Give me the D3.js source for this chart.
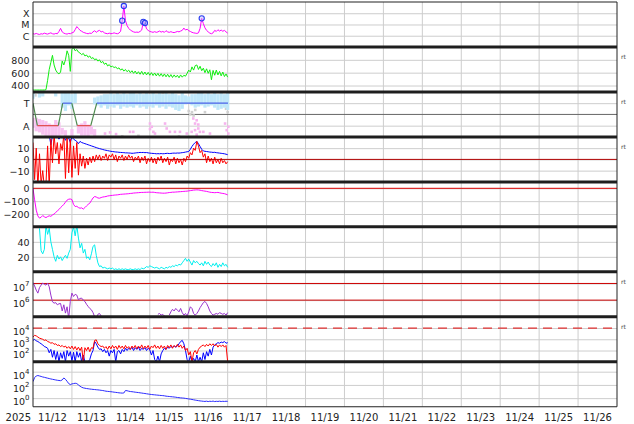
<!DOCTYPE html>
<html><head><meta charset="utf-8">
<script src="https://cdn.jsdelivr.net/npm/d3@7"></script>
<style>body{margin:0;background:#fff}svg{display:block}</style>
</head><body><svg id="chart" width="634" height="424"></svg>
<script>
// ---------------- DATA (hourly series start 2025-11-12 00:00 UT, 1 h step) ----------------
const startDate = "2025-11-12T00:00:00Z";
const endDate = "2025-11-27T00:00:00Z";
const yearLabel = "2025";
const dayLabels = ["11/12","11/13","11/14","11/15","11/16","11/17","11/18","11/19","11/20","11/21","11/22","11/23","11/24","11/25","11/26"];

// Panel 1: GOES X-ray flux (W/m2)
const xrayFlux = [
1.5e-6,1.4e-6,1.6e-6,1.4e-6,1.3e-6,1.5e-6,1.4e-6,1.7e-6,1.5e-6,1.4e-6,
1.6e-6,1.8e-6,1.5e-6,1.4e-6,1.6e-6,1.5e-6,2.4e-6,4.5e-6,2.2e-6,1.7e-6,
1.5e-6,1.4e-6,1.6e-6,1.5e-6,1.8e-6,2.0e-6,3.5e-6,6.5e-6,4.5e-6,3.0e-6,
2.5e-6,2.0e-6,1.8e-6,1.6e-6,1.5e-6,1.7e-6,1.6e-6,2.2e-6,2.8e-6,2.0e-6,
2.6e-6,3.0e-6,2.2e-6,2.4e-6,1.8e-6,1.6e-6,1.5e-6,1.7e-6,1.5e-6,1.6e-6,
1.8e-6,1.6e-6,1.5e-6,1.7e-6,2.5e-6,2.2e-5,4.4e-4,2.2e-5,8e-6,4.5e-6,
3.2e-6,2.6e-6,2.2e-6,2.0e-6,2.1e-6,2.0e-6,2.4e-6,3.2e-6,1.7e-5,1.35e-5,
4e-6,3e-6,2.4e-6,2.2e-6,2.0e-6,2.3e-6,2.0e-6,2.2e-6,2.6e-6,2.1e-6,
2.4e-6,2.0e-6,2.8e-6,2.2e-6,2.0e-6,2.3e-6,2.0e-6,1.9e-6,2.1e-6,2.4e-6,
2.2e-6,2.6e-6,3.0e-6,4.8e-6,3.2e-6,3.8e-6,2.8e-6,2.4e-6,2.0e-6,1.8e-6,
1.7e-6,1.6e-6,1.8e-6,4.5e-6,3.5e-5,1.2e-5,5e-6,3e-6,2.2e-6,1.7e-6,
1.5e-6,1.8e-6,3.0e-6,2.4e-6,3.4e-6,2.6e-6,3.2e-6,2.5e-6,3.0e-6,2.2e-6,1.7e-6];
const flareHours = [55, 56, 68, 69, 104];
const flareFlux = [2.2e-5, 4.4e-4, 1.7e-5, 1.35e-5, 3.5e-5];
const xrayTicks = [1e-4, 1e-5, 1e-6];
const xrayTickLabels = ["X", "M", "C"];

// Panel 2: solar wind speed (km/s)
const windSpeed = [
330,330,330,330,330,330,330,330,335,480,
650,760,870,720,640,600,580,610,780,720,
800,940,870,620,960,990,940,960,920,905,
880,900,860,875,840,860,820,835,800,815,
780,800,755,775,730,750,705,725,690,700,
680,690,660,675,640,660,625,650,615,640,
600,630,590,625,580,615,575,620,570,610,
565,605,560,600,555,595,550,590,545,585,
540,580,535,575,530,570,525,565,530,560,
520,565,530,560,545,590,640,610,690,640,
710,720,650,700,630,670,600,660,590,645,
490,635,560,640,565,620,550,610,540,580,530];
const speedTicks = [800, 600, 400];

// Panel 3: IMF sector (T = +1, A = -1)
const sectorHours = [0, 2.7, 15.6, 18.3, 23.9, 27.3, 35.6, 39.3, 120.2];
const sectorPolarity = [1, -1, -1, 1, 1, -1, -1, 1, 1];
const sectorTicks = [1, -1];
const sectorTickLabels = ["T", "A"];
// 2-hour bins of the away (light blue) scatter extent
const awayBandLo = [1.4,null,1.5,1.6,null,null,null,1.6,null,0.6,
0.3,0.8,0.5,1.0,null,null,null,null,null,0.9,
0.8,0.6,0.8,0.5,0.7,0.6,0.8,0.5,0.7,0.6,
0.7,0.6,0.8,0.6,0.7,0.5,0.7,0.6,0.8,0.6,
0.7,0.5,0.7,0.6,0.4,0.3,0.5,0.9,1.0,0.8,
0.6,0.7,0.8,0.6,0.7,0.8,0.6,0.4,0.5,0.6,0.4];
const awayBandHi = [1.9,null,2.0,2.0,null,null,null,1.9,null,1.9,
2.0,1.9,1.8,1.9,null,null,null,null,null,1.5,
1.6,1.7,1.8,1.8,1.9,1.8,1.9,1.8,1.9,1.8,
1.9,1.9,1.8,1.9,1.8,1.9,1.8,1.9,1.8,1.9,
1.8,1.9,1.8,1.9,1.8,1.7,1.9,1.7,1.6,1.8,
1.8,1.9,1.9,1.8,1.9,1.8,1.9,1.8,1.9,1.8,1.9];
// 2-hour bins of the toward (pink) scatter extent, first 40 h
const towardBandTop = [-0.3,-0.3,-0.4,-0.5,-0.6,-0.8,-0.9,-0.5,-0.7,-1.2,-1.4,null,-1.3,null,-0.9,-0.8,-0.6,-0.9,-1.0,-1.3];
const towardBandBottom = [-1.2,-1.5,-1.6,-1.8,-1.9,-1.9,-2.0,-2.0,-1.9,-1.8,-2.0,null,-1.9,null,-1.7,-1.9,-1.9,-2.0,-1.8,-1.9];
const towardDotHours = [44.4,47.5,51.2,59.8,61.8,72.1,73.2,74.2,75.2,81.4,82.4,84.4,87.5,90.6,94.8,97.8,98.8,99.9,100.9,101.9,102.9,105.0,109.1,118.4,119.4,120.4,120.4,72.1,99.9,101.9,100.9];
const towardDotValues = [-1.7,-1.6,-1.75,-1.55,-1.55,-0.81,-1.1,-1.55,-1.7,-0.81,-1.25,-1.55,-1.55,-1.55,-1.7,-1.55,-0.36,-0.81,-0.52,-1.25,-1.55,-1.55,-1.7,-0.81,-1.4,-1.1,-1.7,-1.3,-1.4,-0.9,-1.8];
const grayDotHours = [0.5,1.5,14,60,80,96,97,98,99,100,106,119,120,120.5,55,65,90];
const grayDotValues = [1.9,1.7,1.95,1.95,1.95,0.3,0.0,0.2,-0.1,0.4,0.2,0.5,0.2,1.95,-1.95,-1.9,-1.95];

// Panel 4: IMF Bt (blue) and Bz (red), nT
const imfBt = [
25,30,28,26,30,28,27,25,26,24,
22,13,21,22,21,20,18,20,19,21,
17,20,19,15,20,18,17,16,14,16,
15,14.5,14,13.5,13,12.5,12,11.5,11,10.5,
10,9.6,9.2,8.8,8.4,8.1,7.8,7.5,7.2,7.0,
6.8,6.6,6.5,6.3,6.2,6.1,6.0,5.8,5.8,5.7,
5.6,5.4,5.5,5.7,5.9,6.0,6.2,6.1,6.2,6.0,
6.1,5.8,5.6,5.4,5.3,5.2,5.0,5.1,5.0,5.2,
5.0,5.1,5.3,5.4,5.2,5.3,5.5,5.6,5.5,5.7,
5.6,5.8,6.0,6.2,6.5,6.8,7,9,11.5,13.5,
15,16,14,11.5,9,7.5,7.2,7.0,6.8,6.5,
6.4,6.2,6.3,6.0,5.8,5.6,5.4,5.2,5.0,4.6,4.2];
const imfBz = [
15,-18,10,-25,5,-22,-10,-25,-22,12,
-25,18,-3,22,5,15,-4,14,8,22,
-17,20,-12,18,-16,12,-8,15,-14,5,
-6,3,-8,1,-5,2,-3,3,-2,4,
0,4,-1,3,1,5,-1,4,2,5,
0,4,-2,3,1,4,-1,3,0,4,
1,3,-2,2,0,3,-3,2,-1,3,
-4,1,-2,2,-3,1,-4,2,-1,3,
-3,1,-2,2,-5,0,-2,2,-4,1,
-3,0,-5,1,-2,3,1,6,4,10,
8,16,12,6,8,2,5,-3,3,-2,
1,-4,2,-3,0,-4,1,-3,-1,-4,-2];
const imfTicks = [10, 0, -10];
const imfTickLabels = ["10", "0", "\u221210"];

// Panel 5: Dst (nT)
const dst = [
0,-90,-170,-215,-232,-225,-212,-222,-228,-220,
-214,-218,-208,-200,-188,-176,-165,-150,-138,-125,
-108,-92,-85,-83,-88,-125,-142,-140,-150,-155,
-152,-162,-150,-137,-125,-116,-95,-75,-64,-68,
-75,-77,-72,-68,-66,-64,-60,-58,-56,-55,
-53,-52,-51,-49,-47,-46,-45,-44,-43,-42,
-40,-39,-37,-36,-35,-34,-33,-32,-32,-31,
-31,-30,-30,-31,-30,-32,-34,-35,-36,-37,
-38,-38,-37,-35,-33,-32,-30,-30,-29,-28,
-27,-26,-25,-24,-23,-22,-20,-18,-16,-14,
-13,-12,-13,-15,-18,-20,-22,-24,-27,-30,
-32,-33,-34,-33,-32,-35,-38,-40,-42,-46,-51];
const dstTicks = [0, -100, -200];
const dstTickLabels = ["0", "\u2212100", "\u2212200"];

// Panel 6: solar wind density (cm^-3)
const density = [
null,null,null,null,58,28,24,30,62,50,
58,40,30,20,14,22,17,20,15,19,
22,18,25,30,52,60,48,62,45,32,
38,25,30,18,20,16,24,34,36,22,
12,7,8,5,6,5,4,5,4,5,
3,4,3,4,3,4,3,4,3,3,
4,3,3,4,3,4,3,5,4,5,
7,6,8,7,6,5,6,5,4,6,
5,4,6,5,7,6,8,7,9,8,
10,9,12,15,18,14,17,13,9,15,
12,14,11,9,12,8,14,10,13,9,
7,11,8,12,6,10,7,12,8,10,6];
const densityTicks = [40, 20];

// Panel 7: >2 MeV electron flux, log10 values
const electronLog10 = [
7.05,6.85,6.6,6.42,6.75,6.9,7.02,6.95,6.9,7.02,
6.8,6.3,5.9,5.82,5.85,5.72,5.78,5.8,5.35,5.72,
5.22,5.6,4.9,5.92,6.42,6.22,6.35,6.3,6.02,6.1,
6.12,6.0,5.92,5.75,5.62,5.5,5.42,5.25,5.0,4.9,
5.15,5.2,5.05,4.9,null,null,null,null,null,null,
null,null,null,null,null,null,null,null,null,null,
null,null,null,null,null,null,null,null,null,null,
null,null,null,null,null,null,null,5.15,5.2,5.1,
5.15,5.05,null,null,5.1,5.3,5.45,5.35,5.5,5.4,
5.3,5.5,5.25,5.1,5.2,5.05,5.3,5.6,5.5,5.2,
5.1,5.2,5.35,5.55,5.7,5.85,5.92,5.8,5.6,5.35,
5.2,5.1,5.15,5.2,5.15,5.25,5.2,5.15,5.2,5.1,5.25];
const electronTicks = [1e7, 1e6];
const electronTickExp = ["7", "6"];

// Panel 8: particle flux, two channels, log10 values
const particleRedLog10 = [
3.2,3.35,3.3,3.2,3.1,3.05,3.0,2.9,2.95,2.8,
2.75,2.65,2.7,2.55,2.6,2.45,2.5,2.35,2.45,2.3,
2.4,2.2,2.35,2.15,2.4,2.1,2.35,2.05,2.3,2.0,
2.3,1.0,2.25,2.0,2.3,1.9,2.25,2.2,2.9,2.95,
2.6,2.45,2.35,2.4,2.2,2.35,2.1,2.4,2.15,2.45,
2.2,2.4,2.1,2.45,2.2,2.4,2.15,2.45,2.2,2.35,
2.1,2.4,2.2,2.45,2.15,2.4,2.2,2.5,2.15,2.4,
2.2,2.45,2.1,2.4,2.25,2.5,2.2,2.4,2.15,2.45,
2.2,2.4,2.1,2.45,2.25,2.5,2.2,2.45,2.3,2.55,
2.3,2.5,2.2,2.4,2.0,2.2,1.6,1.9,1.0,1.8,
2.0,1.7,2.1,2.3,2.4,2.5,2.35,2.55,2.4,2.6,
2.45,2.6,2.4,2.55,2.3,2.5,2.35,2.5,2.3,2.45,1.0];
const particleBlueLog10 = [
2.9,3.0,2.85,2.8,2.7,2.6,2.5,2.35,2.3,2.2,
1.8,2.1,1.4,2.0,1.2,1.9,1.0,1.8,1.3,1.9,
1.0,2.0,1.5,1.9,1.1,1.85,1.0,1.9,1.4,1.8,
1.0,1.6,1.0,1.0,1.0,1.2,1.7,2.0,2.8,2.6,
2.3,2.1,2.15,1.9,2.1,1.8,2.0,1.5,2.0,1.8,
2.1,1.0,1.9,2.0,1.7,2.1,1.9,2.2,2.0,2.2,
2.1,2.3,2.0,2.25,2.1,2.3,2.0,2.2,2.1,2.25,
2.0,2.2,2.05,1.6,2.0,1.2,1.0,1.5,1.0,1.7,
2.0,2.2,2.1,2.3,2.2,2.35,2.3,2.4,2.3,2.4,
2.6,2.8,2.9,2.6,2.0,1.2,1.0,1.5,1.0,1.3,
1.0,1.6,1.0,1.4,1.0,1.8,1.2,1.9,1.5,2.1,
1.6,2.3,2.5,2.6,2.7,2.65,2.75,2.7,2.8,2.65,2.7];
const particleTicks = [1e4, 1e3, 1e2];
const particleTickExp = ["4", "3", "2"];

// Panel 9: fluence, log10 values
const fluenceLog10 = [
2.5,3.1,3.35,3.42,3.35,3.28,3.2,3.15,3.08,3.02,
2.96,2.9,2.85,2.8,2.75,2.7,2.67,2.64,2.75,3.05,
2.85,2.55,2.2,2.05,2.15,2.2,2.25,2.2,2.0,1.8,
1.65,1.55,1.5,1.45,1.42,1.38,1.35,1.32,1.3,1.27,
1.25,1.22,1.18,1.15,1.1,1.05,1.02,1.0,0.97,0.94,
0.9,0.87,0.84,0.8,0.78,0.76,0.78,1.15,1.12,1.05,
1.0,0.97,0.94,0.9,0.87,0.84,0.8,0.77,0.73,0.7,
0.66,0.62,0.58,0.55,0.52,0.5,0.47,0.45,0.42,0.4,
0.38,0.35,0.3,0.27,0.25,0.22,0.2,0.17,0.14,0.1,
0.07,0.04,0.02,0.0,-0.04,-0.08,-0.12,-0.16,-0.2,-0.25,
-0.3,-0.34,-0.38,-0.42,-0.45,-0.48,-0.5,-0.46,-0.52,-0.47,
-0.5,-0.45,-0.52,-0.48,-0.5,-0.46,-0.51,-0.48,-0.5,-0.47,-0.49];
const fluenceTicks = [1e4, 1e2, 1];
const fluenceTickExp = ["4", "2", "0"];

// ---------------- LAYOUT ----------------
const svg = d3.select("#chart");
const L = 33, R = 617, TOP = 2, PH = 44.97, NP = 9;
const BOTTOM = TOP + NP * PH;
const FONT = "DejaVu Sans, sans-serif";
const t0 = new Date(startDate), t1 = new Date(endDate);
const x = d3.scaleUtc().domain([t0, t1]).range([L, R]);
const atHour = h => new Date(t0.getTime() + h * 3600000);
const pTop = i => TOP + i * PH;
const mk = (i, log, dom) => (log ? d3.scaleLog() : d3.scaleLinear()).domain(dom).range([pTop(i) + PH, pTop(i)]);

const yX = mk(0, true, [1e-7, 1e-3]);
const yV = mk(1, false, [300, 1000]);
const yS = mk(2, false, [-2, 2]);
const yB = mk(3, false, [-20, 20]);
const yD = mk(4, false, [-300, 50]);
const yN = mk(5, false, [0, 60]);
const yE = mk(6, true, [1e5, 5e7]);
const yP = mk(7, true, [10, 1e5]);
const yF = mk(8, true, [Math.pow(10, -1.3), Math.pow(10, 5.5)]);

const defs = svg.append("defs");
for (let i = 0; i < NP; i++) {
  defs.append("clipPath").attr("id", "clip" + i).append("rect")
    .attr("x", L).attr("y", pTop(i)).attr("width", R - L).attr("height", PH);
}

// vertical day grid
svg.append("g").selectAll("line").data(d3.utcDay.range(d3.utcDay.offset(t0, 1), t1)).join("line")
  .attr("x1", d => x(d)).attr("x2", d => x(d)).attr("y1", TOP).attr("y2", BOTTOM)
  .attr("stroke", "#cdcdcd").attr("stroke-width", 1);

// y axes with horizontal grid
function yAxis(scale, vals, labels, sup) {
  const g = svg.append("g").attr("transform", `translate(${L},0)`)
    .call(d3.axisLeft(scale).tickValues(vals).tickSize(-(R - L)).tickPadding(3.5)
      .tickFormat((d, k) => labels[k]));
  g.select(".domain").remove();
  g.selectAll(".tick line").attr("stroke", "#cdcdcd").attr("stroke-width", 1);
  g.selectAll(".tick text").attr("font-family", FONT).attr("font-size", "9.5px").attr("fill", "#222").attr("dy", "0.36em");
  if (sup) {
    g.selectAll(".tick text").each(function (d, k) {
      const t = d3.select(this);
      t.text(null).attr("dy", "0.72em");
      t.append("tspan").text("10");
      t.append("tspan").attr("dy", -5).attr("font-size", "7px").text(labels[k]);
    });
  }
  return g;
}
yAxis(yX, xrayTicks, xrayTickLabels, false);
yAxis(yV, speedTicks, speedTicks.map(String), false);
yAxis(yS, sectorTicks, sectorTickLabels, false);
yAxis(yB, imfTicks, imfTickLabels, false);
yAxis(yD, dstTicks, dstTickLabels, false);
yAxis(yN, densityTicks, densityTicks.map(String), false);
yAxis(yE, electronTicks, electronTickExp, true);
yAxis(yP, particleTicks, particleTickExp, true);
yAxis(yF, fluenceTicks, fluenceTickExp, true);

// reference lines
function hline(y, color, w, dash) {
  const l = svg.append("line").attr("x1", L).attr("x2", R).attr("y1", y).attr("y2", y)
    .attr("stroke", color).attr("stroke-width", w);
  if (dash) l.attr("stroke-dasharray", dash);
}
hline(yS(0), "#666", 1);

// helpers
function drawLine(i, data, yfun, color, width) {
  const line = d3.line().defined(d => d != null).x((d, k) => x(atHour(k))).y(d => yfun(d));
  svg.append("path").attr("clip-path", `url(#clip${i})`).datum(data).attr("d", line)
    .attr("fill", "none").attr("stroke", color).attr("stroke-width", width).attr("stroke-linejoin", "round");
}
const p10 = e => Math.pow(10, e);

// Panel 1
drawLine(0, xrayFlux, yX, "#ff00ff", 1);
svg.append("g").selectAll("circle").data(flareHours).join("circle")
  .attr("cx", (h) => x(atHour(h))).attr("cy", (h, k) => yX(flareFlux[k])).attr("r", 2.6)
  .attr("fill", "rgba(190,190,255,0.45)").attr("stroke", "#2a3cf0").attr("stroke-width", 1.1);

// Panel 2
drawLine(1, windSpeed, yV, "#10ee10", 1);

// Panel 3
const g3 = svg.append("g").attr("clip-path", "url(#clip2)");
const binW = x(atHour(2)) - x(atHour(0));
g3.selectAll("rect.gray").data(grayDotHours).join("rect").attr("class", "gray")
  .attr("x", h => x(atHour(h)) - 1.3).attr("y", (h, k) => yS(grayDotValues[k]) - 1.3)
  .attr("width", 2.6).attr("height", 2.6).attr("fill", "#d0d0d0");
awayBandLo.forEach((lo, k) => {
  if (lo == null) return;
  g3.append("rect").attr("x", x(atHour(k * 2 - 1))).attr("width", binW)
    .attr("y", yS(awayBandHi[k])).attr("height", yS(lo) - yS(awayBandHi[k])).attr("fill", "#bfe7f9");
});
towardBandTop.forEach((tp, k) => {
  if (tp == null) return;
  g3.append("rect").attr("x", x(atHour(k * 2 - 1))).attr("width", binW)
    .attr("y", yS(tp)).attr("height", yS(towardBandBottom[k]) - yS(tp)).attr("fill", "#f7c2f1");
});
g3.selectAll("rect.pink").data(towardDotHours).join("rect").attr("class", "pink")
  .attr("x", h => x(atHour(h)) - 1.3).attr("y", (h, k) => yS(towardDotValues[k]) - 1.3)
  .attr("width", 2.6).attr("height", 2.6).attr("fill", "#f6b4ee");
for (let k = 0; k < sectorHours.length - 1; k++) {
  const a = sectorPolarity[k], b = sectorPolarity[k + 1];
  const col = a === b ? (a > 0 ? "#4a62e8" : "#e04848") : "#4e8a4e";
  g3.append("line").attr("x1", x(atHour(sectorHours[k]))).attr("x2", x(atHour(sectorHours[k + 1])))
    .attr("y1", yS(a)).attr("y2", yS(b)).attr("stroke", col).attr("stroke-width", 1.2);
}

// Panel 4
drawLine(3, imfBt, yB, "#0000ff", 1);
drawLine(3, imfBz, yB, "#ff0000", 1);
hline(yB(0), "#b00000", 1);

// Panel 5
hline(yD(0), "#dd0000", 1);
drawLine(4, dst, yD, "#ff00ff", 1);

// Panel 6
drawLine(5, density, yN, "#00eeee", 1);

// Panel 7
hline(yE(1e7), "#cc0000", 1);
hline(yE(1e6), "#cc0000", 1);
drawLine(6, electronLog10, e => yE(p10(e)), "#9933cc", 1);

// Panel 8
hline(yP(1e4), "#e03030", 1.3, "9,6");
drawLine(7, particleBlueLog10, e => yP(p10(e)), "#0000ff", 1);
drawLine(7, particleRedLog10, e => yP(p10(e)), "#ff0000", 1);

// Panel 9
drawLine(8, fluenceLog10, e => yF(p10(e)), "#2a2aff", 1);

// frame
svg.append("line").attr("x1", L).attr("x2", L).attr("y1", TOP).attr("y2", BOTTOM).attr("stroke", "#222").attr("stroke-width", 1);
svg.append("line").attr("x1", R).attr("x2", R).attr("y1", TOP).attr("y2", BOTTOM).attr("stroke", "#222").attr("stroke-width", 1);
hline(TOP, "#222", 1.2);
hline(BOTTOM, "#222", 1.2);
for (let i = 1; i < NP; i++) hline(pTop(i), "#1e1e1e", 3);

// "rt" markers
[1, 2, 3, 6, 7].forEach(i => {
  svg.append("text").attr("x", 621).attr("y", pTop(i) + 12).attr("font-family", FONT)
    .attr("font-size", "6px").attr("fill", "#444").text("rt");
});

// x labels
svg.append("g").selectAll("text").data(dayLabels).join("text")
  .attr("x", (d, k) => x(atHour(24 * k + 12))).attr("y", 421).attr("text-anchor", "middle")
  .attr("font-family", FONT).attr("font-size", "10px").attr("fill", "#222").text(d => d);
svg.append("text").attr("x", 31).attr("y", 421).attr("text-anchor", "end")
  .attr("font-family", FONT).attr("font-size", "10px").attr("fill", "#222").text(yearLabel);
</script>
</body></html>
